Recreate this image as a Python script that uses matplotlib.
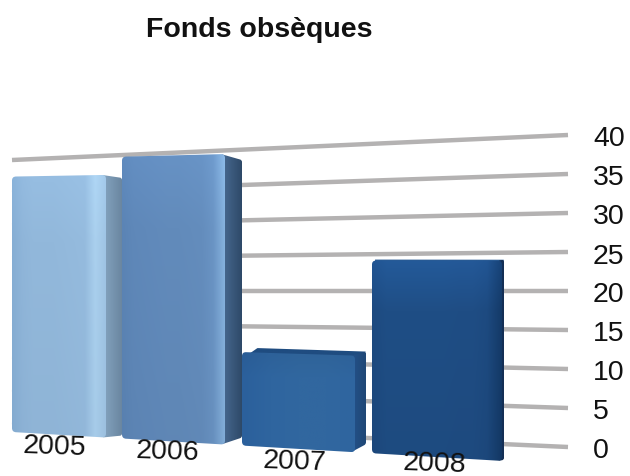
import numpy as np
from matplotlib import pyplot as plt
from matplotlib.patches import PathPatch
from matplotlib.path import Path

plt.rcParams['font.family'] = ['Liberation Sans', 'DejaVu Sans']

title = 'Fonds obsèques'
years = ['2005', '2006', '2007', '2008']
values = [33, 36, 11.8, 24]
tick_values = [0, 5, 10, 15, 20, 25, 30, 35, 40]

# bar geometry in pixels: front face edges and how far the side face reaches
bar_left = [12, 122, 242, 372]
bar_right = [106, 225, 355, 502]
side_dx = [16, 17, 11, 2]
side_top_dy = [3, 6, -4, -1]
side_bottom_dy = [-2, -7, -8, -1]
label_x = [55, 168, 295, 435]
label_y = [447, 452, 462, 464]

# colour stops across each face, left to right
front_colors = [
    ['#86AED4', '#8FB5D9', '#92B8DB', '#92B8DB', '#92B8DB', '#93B9DC', '#94BADD', '#95BBDE', '#AAD0EE', '#9FC4E4'],
    ['#5B84B5', '#5F88B9', '#6089BA', '#618ABB', '#628BBB', '#628BBB', '#638CBC', '#648DBD', '#6A94C4', '#86B2DE'],
    ['#2B609C', '#2F659F', '#31679F', '#31679F', '#2F659F'],
    ['#1D4A80', '#1F4E85', '#1F4E85', '#1F4E85', '#1F4E85', '#1F4E85', '#1F4D84', '#1F4D84', '#1D4A80', '#143A68'],
]
side_colors = [
    ['#86A6C2', '#6A86A0'],
    ['#4A6C94', '#2E4968'],
    ['#24528A', '#1F4776'],
    ['#142F55', '#142F55'],
]
top_colors = ['#A3C6E4', '#7FA6D0', '#1F4C80', '#2B5C94']
vertical_shade = [
    (1.03, 1.0, 0.98),
    (1.05, 1.0, 0.97),
    (0.96, 1.0, 1.0),
    (1.15, 1.0, 0.96),
]

GRID_COLOR = '#B4B2B2'
GRID_LEFT, GRID_RIGHT = 12, 568
CORNER = 4


def grid_y(value, x):
    """Pixel row of a gridline, the lines fan out towards the right."""
    spread = (np.asarray(x, dtype=float) + 2900) / 3468
    return 292 - (value - 20) * 7.8 * spread


def base_y(x):
    return 433 + 0.059 * (x - 12)


def front_y(value, x, xl):
    """Pixel row of a value on the front plane of the bar starting at xl."""
    scale = (7.74 + 0.0008 * (xl - 12)) * (1 + 0.0003 * (x - xl))
    return base_y(x) - value * scale


def to_rgb(color):
    return np.array([int(color[i:i + 2], 16) / 255 for i in (1, 3, 5)])


def rounded_path(verts, radius):
    """Closed path through verts with its corners cut by small curves."""
    verts = np.array(verts, dtype=float)
    n = len(verts)
    points, codes = [], []
    for k in range(n):
        here = verts[k]
        to_prev = verts[k - 1] - here
        to_next = verts[(k + 1) % n] - here
        start = here + to_prev / np.linalg.norm(to_prev) * radius
        end = here + to_next / np.linalg.norm(to_next) * radius
        points += [start, here, end]
        codes += [Path.MOVETO if k == 0 else Path.LINETO, Path.CURVE3, Path.CURVE3]
    points.append(points[0])
    codes.append(Path.CLOSEPOLY)
    return Path(points, codes)


def shaded_face(ax, verts, stops, shade=(1.0, 1.0, 1.0), zorder=3, radius=0.5):
    """Fill a polygon with a horizontal gradient scaled by a vertical one."""
    verts = np.array(verts, dtype=float)
    x0, y0 = verts.min(axis=0)
    x1, y1 = verts.max(axis=0)
    w = np.linspace(0, 1, 128)
    rgb = np.stack(
        [np.interp(w, np.linspace(0, 1, len(stops)), [to_rgb(c)[k] for c in stops]) for k in range(3)],
        axis=1,
    )
    factor = np.interp(np.linspace(0, 1, 128), [0, 0.25, 1], shade)
    img = np.clip(rgb[None, :, :] * factor[:, None, None], 0, 1)
    im = ax.imshow(img, extent=(x0, x1, y1, y0), aspect='auto', interpolation='bilinear', zorder=zorder)
    outline = PathPatch(rounded_path(verts, radius), transform=ax.transData, fc='none', ec='none')
    ax.add_patch(outline)
    im.set_clip_path(outline)


fig = plt.figure(figsize=(6.3, 4.77), dpi=100, facecolor='white')
ax = fig.add_axes([0, 0, 1, 1])

for v in tick_values:
    xs = np.array([GRID_LEFT, GRID_RIGHT])
    ax.plot(xs, grid_y(v, xs), color=GRID_COLOR, lw=3.2, solid_capstyle='butt', zorder=1)
    ax.text(593, grid_y(v, GRID_RIGHT) + 0.5, str(v), fontsize=20.5, color='#111111', ha='left', va='center_baseline')

for i, val in enumerate(values):
    xl, xr = bar_left[i], bar_right[i]
    dx = side_dx[i]
    tl = (xl, front_y(val, xl, xl))
    tr = (xr, front_y(val, xr, xl))
    br = (xr, base_y(xr))
    bl = (xl, base_y(xl))
    back_top = (xr + dx, tr[1] + side_top_dy[i])
    back_bottom = (xr + dx, br[1] + side_bottom_dy[i])

    if side_top_dy[i] < 0:
        # bars below eye level show a sliver of their top, run under the front face
        back_left = (xl + dx * 1.4, tl[1] + side_top_dy[i])
        shaded_face(ax, [(tl[0] + CORNER, tl[1] + CORNER), (tr[0], tr[1] + CORNER), back_top, back_left],
                    [top_colors[i], top_colors[i]], zorder=2 + i)
    # the side also runs under the front so the rounded corners stay filled
    shaded_face(ax, [(xr - CORNER, tr[1]), back_top, back_bottom, (xr - CORNER, br[1])], side_colors[i],
                zorder=2 + i, radius=2)
    shaded_face(ax, [tl, tr, br, bl], front_colors[i], vertical_shade[i], zorder=2.5 + i, radius=CORNER)
    ax.text(label_x[i], label_y[i], years[i], fontsize=20.5, color='#111111', ha='center', va='center',
            rotation=-2, zorder=10)

ax.text(259, 30, title, fontsize=20.5, fontweight='bold', color='#111111', ha='center', va='center')

ax.set_xlim(0, 630)
ax.set_ylim(477, 0)
ax.axis('off')

fig.savefig('out.png', dpi=100)
